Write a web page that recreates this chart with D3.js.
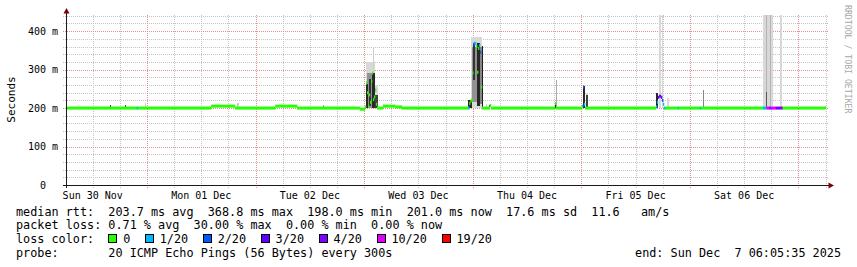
<!DOCTYPE html>
<html>
<head>
<meta charset="utf-8">
<script src="https://cdn.jsdelivr.net/npm/d3@7"></script>
<style>
  body { margin: 0; background: #fff; }
  svg text { font-family: "DejaVu Sans Mono", monospace; white-space: pre; }
</style>
</head>
<body>
<svg id="chart" width="857" height="267"></svg>
<script>
// ---- values ----
const endTime = new Date(Date.UTC(2025, 11, 7, 6, 5, 35));
const startTime = new Date(endTime - 7 * 864e5);
const yMax = 442;                       // upper limit of the value axis (ms)
const yTicks = [0, 100, 200, 300, 400];
const yTickLabels = ['0  ', '100 m', '200 m', '300 m', '400 m'];

// loss buckets (out of 20 pings)
const lossLevels = [0, 1, 2, 3, 4, 10, 19];
const lossLabels = ['0', '1/20', '2/20', '3/20', '4/20', '10/20', '19/20'];
const lossColors = ['#26ff00', '#00b8ff', '#0059ff', '#5e00ff', '#7e00ff', '#dd00ff', '#ff0000'];

// median rtt: [from (UTC month-day hh:mm), median ms, lost pings] – holds until next entry
const medianSteps = [
  ['11-30 06:05', 200, 0], ['11-30 21:45', 200, 1], ['11-30 22:00', 200, 0],
  ['12-01 14:10', 205, 0], ['12-01 19:25', 200, 0],
  ['12-02 04:20', 205, 0], ['12-02 09:10', 200, 0], ['12-02 23:05', 197, 0],
  ['12-03 00:10', 203, 0], ['12-03 00:24', 265, 0], ['12-03 00:38', 240, 0],
  ['12-03 00:51', 205, 0], ['12-03 01:04', 234, 0], ['12-03 01:17', 215, 0],
  ['12-03 01:31', 270, 0], ['12-03 01:44', 291, 0], ['12-03 01:57', 222, 0],
  ['12-03 02:10', 229, 0], ['12-03 02:24', 247, 0], ['12-03 02:37', 210, 0],
  ['12-03 02:50', 200, 0], ['12-03 04:10', 205, 0], ['12-03 06:50', 203, 0],
  ['12-03 08:20', 200, 0],
  ['12-03 23:00', 200, 1], ['12-03 23:13', 212, 0], ['12-03 23:26', 218, 0],
  ['12-03 23:40', 221, 0], ['12-03 23:53', 291, 0], ['12-04 00:06', 366, 2],
  ['12-04 00:19', 369, 1], ['12-04 00:32', 368, 1], ['12-04 00:45', 360, 0],
  ['12-04 00:58', 293, 0], ['12-04 01:11', 355, 0], ['12-04 01:24', 363, 1],
  ['12-04 01:37', 345, 2], ['12-04 01:50', 255, 0], ['12-04 02:03', 200, 0],
  ['12-04 03:45', 207, 0], ['12-04 04:00', 200, 0],
  ['12-04 18:10', 212, 0], ['12-04 18:25', 200, 0],
  ['12-05 00:10', 205, 1], ['12-05 00:23', 255, 2], ['12-05 00:36', 210, 1],
  ['12-05 00:50', 200, 0],
  ['12-05 16:30', 203, 1], ['12-05 16:43', 215, 1], ['12-05 16:57', 228, 3],
  ['12-05 17:10', 231, 4], ['12-05 17:36', 228, 3], ['12-05 17:50', 220, 2],
  ['12-05 18:03', 210, 1], ['12-05 18:16', 200, 1], ['12-05 18:30', 200, 0],
  ['12-05 21:20', 200, 1], ['12-05 21:33', 200, 0],
  ['12-06 02:10', 200, 1], ['12-06 02:25', 200, 0],
  ['12-06 16:10', 200, 1], ['12-06 16:55', 200, 10], ['12-06 17:35', 200, 4],
  ['12-06 18:00', 200, 10], ['12-06 19:00', 200, 4], ['12-06 20:30', 200, 0],
  ['12-07 05:50', 201, 0]
];

// smoke: [from, to, low ms, high ms, pings inside the band]
const smoke = [
  ['11-30 15:45', '11-30 15:58', 200, 208, 16],
  ['11-30 19:05', '11-30 19:18', 200, 209, 16],
  ['11-30 23:30', '11-30 23:43', 200, 214, 4],
  ['12-01 19:50', '12-01 20:16', 200, 213, 4],
  ['12-02 15:00', '12-02 15:13', 200, 207, 8],
  ['12-03 00:25', '12-03 02:24', 200, 320, 3],
  ['12-03 02:01', '12-03 02:14', 200, 360, 4],
  ['12-03 02:24', '12-03 03:08', 200, 260, 3],
  ['12-03 00:40', '12-03 01:50', 200, 290, 9],
  ['12-03 00:25', '12-03 00:55', 200, 262, 18],
  ['12-03 01:08', '12-03 01:27', 205, 275, 17],
  ['12-03 01:48', '12-03 02:24', 200, 291, 18],
  ['12-03 02:24', '12-03 03:08', 200, 234, 16],
  ['12-03 23:37', '12-04 02:03', 200, 385, 3],
  ['12-03 23:50', '12-04 00:57', 215, 360, 9],
  ['12-04 01:37', '12-04 02:03', 210, 358, 10],
  ['12-03 22:56', '12-03 23:50', 200, 221, 18],
  ['12-04 00:04', '12-04 00:34', 273, 370, 17],
  ['12-04 00:57', '12-04 01:41', 205, 368, 18],
  ['12-04 02:00', '12-04 02:08', 200, 362, 19],
  ['12-04 03:00', '12-04 03:13', 200, 210, 4],
  ['12-04 03:35', '12-04 03:48', 200, 207, 16],
  ['12-04 18:10', '12-04 18:25', 200, 212, 18],
  ['12-04 18:28', '12-04 18:41', 200, 272, 7],
  ['12-05 00:20', '12-05 00:47', 200, 258, 18],
  ['12-05 01:03', '12-05 01:25', 200, 240, 3],
  ['12-05 01:03', '12-05 01:25', 200, 234, 16],
  ['12-05 16:31', '12-05 17:02', 200, 239, 18],
  ['12-05 17:07', '12-05 17:34', 200, 450, 3],
  ['12-05 17:50', '12-05 18:03', 200, 450, 3],
  ['12-05 18:56', '12-05 19:23', 200, 226, 3],
  ['12-06 02:50', '12-06 03:02', 200, 247, 10],
  ['12-06 16:12', '12-06 18:25', 200, 450, 3],
  ['12-06 16:52', '12-06 17:05', 200, 450, 6],
  ['12-06 17:45', '12-06 17:58', 200, 450, 6],
  ['12-06 19:57', '12-06 20:23', 200, 450, 3],
  ['12-06 16:52', '12-06 17:05', 200, 242, 14]
];

const statLines = [
  'median rtt:  203.7 ms avg  368.8 ms max  198.0 ms min  201.0 ms now  17.6 ms sd  11.6   am/s',
  'packet loss: 0.71 % avg  30.00 % max  0.00 % min  0.00 % now'
];
const probeText = 'probe:       20 ICMP Echo Pings (56 Bytes) every 300s';
const endText = 'end: Sun Dec  7 06:05:35 2025';

// ---- drawing ----
const parseT = s => {
  const [md, hm] = s.split(' ');
  const [mo, d] = md.split('-').map(Number);
  const [h, mi] = hm.split(':').map(Number);
  return new Date(Date.UTC(2025, mo - 1, d, h, mi));
};

const svg = d3.select('#chart');
const x = d3.scaleUtc().domain([startTime, endTime]).range([66, 826]);
const y = d3.scaleLinear().domain([0, yMax]).range([185, 15]);
const lossColor = d3.scaleThreshold().domain(lossLevels.slice(1)).range(lossColors);
const smokeColor = d3.scaleLinear().domain([2, 20]).range(['#e4e4e4', '#111111']).clamp(true);

svg.append('rect').attr('width', 857).attr('height', 267).attr('fill', '#fff');

svg.append('clipPath').attr('id', 'plotclip')
  .append('rect').attr('x', 66).attr('y', 15).attr('width', 760).attr('height', 170);

// grid
const grid = svg.append('g').attr('shape-rendering', 'crispEdges')
  .attr('stroke-dasharray', '1,1').attr('stroke-width', 1);

const minorY = d3.range(0, yMax, 20).filter(v => v % 100 !== 0);
const minorX = d3.utcHour.every(6).range(startTime, endTime).filter(d => d.getUTCHours() !== 0);
const majorX = d3.utcDay.range(startTime, endTime);

grid.selectAll('.hmin').data(minorY).join('line')
  .attr('x1', 63).attr('x2', 828)
  .attr('y1', d => Math.round(y(d)) + 0.5).attr('y2', d => Math.round(y(d)) + 0.5)
  .attr('stroke', '#c4c4c4');
grid.selectAll('.vmin').data(minorX).join('line')
  .attr('x1', d => Math.round(x(d)) + 0.5).attr('x2', d => Math.round(x(d)) + 0.5)
  .attr('y1', 15).attr('y2', 188)
  .attr('stroke', '#c4c4c4');
grid.selectAll('.hmaj').data(yTicks.filter(v => v > 0)).join('line')
  .attr('x1', 63).attr('x2', 828)
  .attr('y1', d => Math.round(y(d)) + 0.5).attr('y2', d => Math.round(y(d)) + 0.5)
  .attr('stroke', '#e59090');
grid.selectAll('.vmaj').data(majorX).join('line')
  .attr('x1', d => Math.round(x(d)) + 0.5).attr('x2', d => Math.round(x(d)) + 0.5)
  .attr('y1', 15).attr('y2', 188)
  .attr('stroke', '#e59090');

// smoke
const plot = svg.append('g').attr('clip-path', 'url(#plotclip)');
plot.append('g').attr('shape-rendering', 'crispEdges')
  .selectAll('rect')
  .data(smoke.slice().sort((a, b) => a[4] - b[4]))
  .join('rect')
  .attr('x', d => x(parseT(d[0])))
  .attr('width', d => Math.max(1, x(parseT(d[1])) - x(parseT(d[0]))))
  .attr('y', d => y(d[3]))
  .attr('height', d => y(d[2]) - y(d[3]))
  .attr('fill', d => smokeColor(d[4]));

// median stripe coloured by loss
const medians = medianSteps.map((d, i) => ({
  t0: parseT(d[0]),
  t1: i < medianSteps.length - 1 ? parseT(medianSteps[i + 1][0]) : endTime,
  ms: d[1],
  loss: d[2]
}));
plot.append('g')
  .selectAll('rect')
  .data(medians)
  .join('rect')
  .attr('x', d => x(d.t0))
  .attr('width', d => x(d.t1) - x(d.t0) + 0.3)
  .attr('y', d => y(d.ms) - 1.5)
  .attr('height', 3)
  .attr('fill', d => lossColor(d.loss));

// axes
const axes = svg.append('g').attr('shape-rendering', 'crispEdges');
axes.append('line').attr('x1', 63).attr('x2', 829).attr('y1', 185.5).attr('y2', 185.5)
  .attr('stroke', '#1a1a1a');
axes.append('line').attr('x1', 66.5).attr('x2', 66.5).attr('y1', 188).attr('y2', 12)
  .attr('stroke', '#1a1a1a');
svg.append('path').attr('d', 'M63.5,13.5 L69.5,13.5 L66.5,8 Z').attr('fill', '#7f0000');
svg.append('path').attr('d', 'M828.5,182.5 L828.5,188.5 L834,185.5 Z').attr('fill', '#7f0000');

// y tick labels
svg.append('g').selectAll('text').data(yTicks).join('text')
  .attr('x', 58).attr('y', d => y(d))
  .attr('dy', '0.36em')
  .attr('text-anchor', 'end')
  .attr('font-size', 10)
  .text((d, i) => yTickLabels[i]);

// x labels at noon of each day
const dayLabels = d3.utcDay.range(d3.utcDay.floor(startTime), endTime)
  .map(d => d3.utcHour.offset(d, 12))
  .filter(d => d >= startTime && d <= endTime);
const fmt = d3.utcFormat('%a %d %b');
svg.append('g').selectAll('text').data(dayLabels).join('text')
  .attr('x', d => x(d)).attr('y', 198.5)
  .attr('text-anchor', 'middle')
  .attr('font-size', 10)
  .text(d => fmt(d));

// axis title and watermark
svg.append('text')
  .attr('transform', 'translate(14.5,99.5) rotate(-90)')
  .attr('text-anchor', 'middle')
  .attr('font-size', 11)
  .text('Seconds');
svg.append('text')
  .attr('transform', 'translate(845,5) rotate(90)')
  .attr('font-size', 8.2)
  .attr('fill', '#a8a8a8')
  .text('RRDTOOL / TOBI OETIKER');

// legend
const legendFont = 11.8;
const charW = legendFont * 0.602;
const lineY = [215.5, 229.2, 243, 256.8];

statLines.forEach((s, i) => {
  svg.append('text').attr('x', 16).attr('y', lineY[i])
    .attr('font-size', legendFont).text(s);
});
svg.append('text').attr('x', 16).attr('y', lineY[2])
  .attr('font-size', legendFont).text('loss color:');

let bx = 16 + 13 * charW;
lossLabels.forEach((lab, i) => {
  svg.append('rect')
    .attr('x', Math.round(bx) + 0.5).attr('y', 234.5)
    .attr('width', 8).attr('height', 8)
    .attr('fill', lossColors[i]).attr('stroke', '#000')
    .attr('shape-rendering', 'crispEdges');
  svg.append('text').attr('x', bx + 14.8).attr('y', lineY[2])
    .attr('font-size', legendFont).text(lab);
  bx += 14.8 + lab.length * charW + 14.7;
});

svg.append('text').attr('x', 16).attr('y', lineY[3])
  .attr('font-size', legendFont).text(probeText);
svg.append('text').attr('x', 841).attr('y', lineY[3])
  .attr('text-anchor', 'end')
  .attr('font-size', legendFont).text(endText);
</script>
</body>
</html>
